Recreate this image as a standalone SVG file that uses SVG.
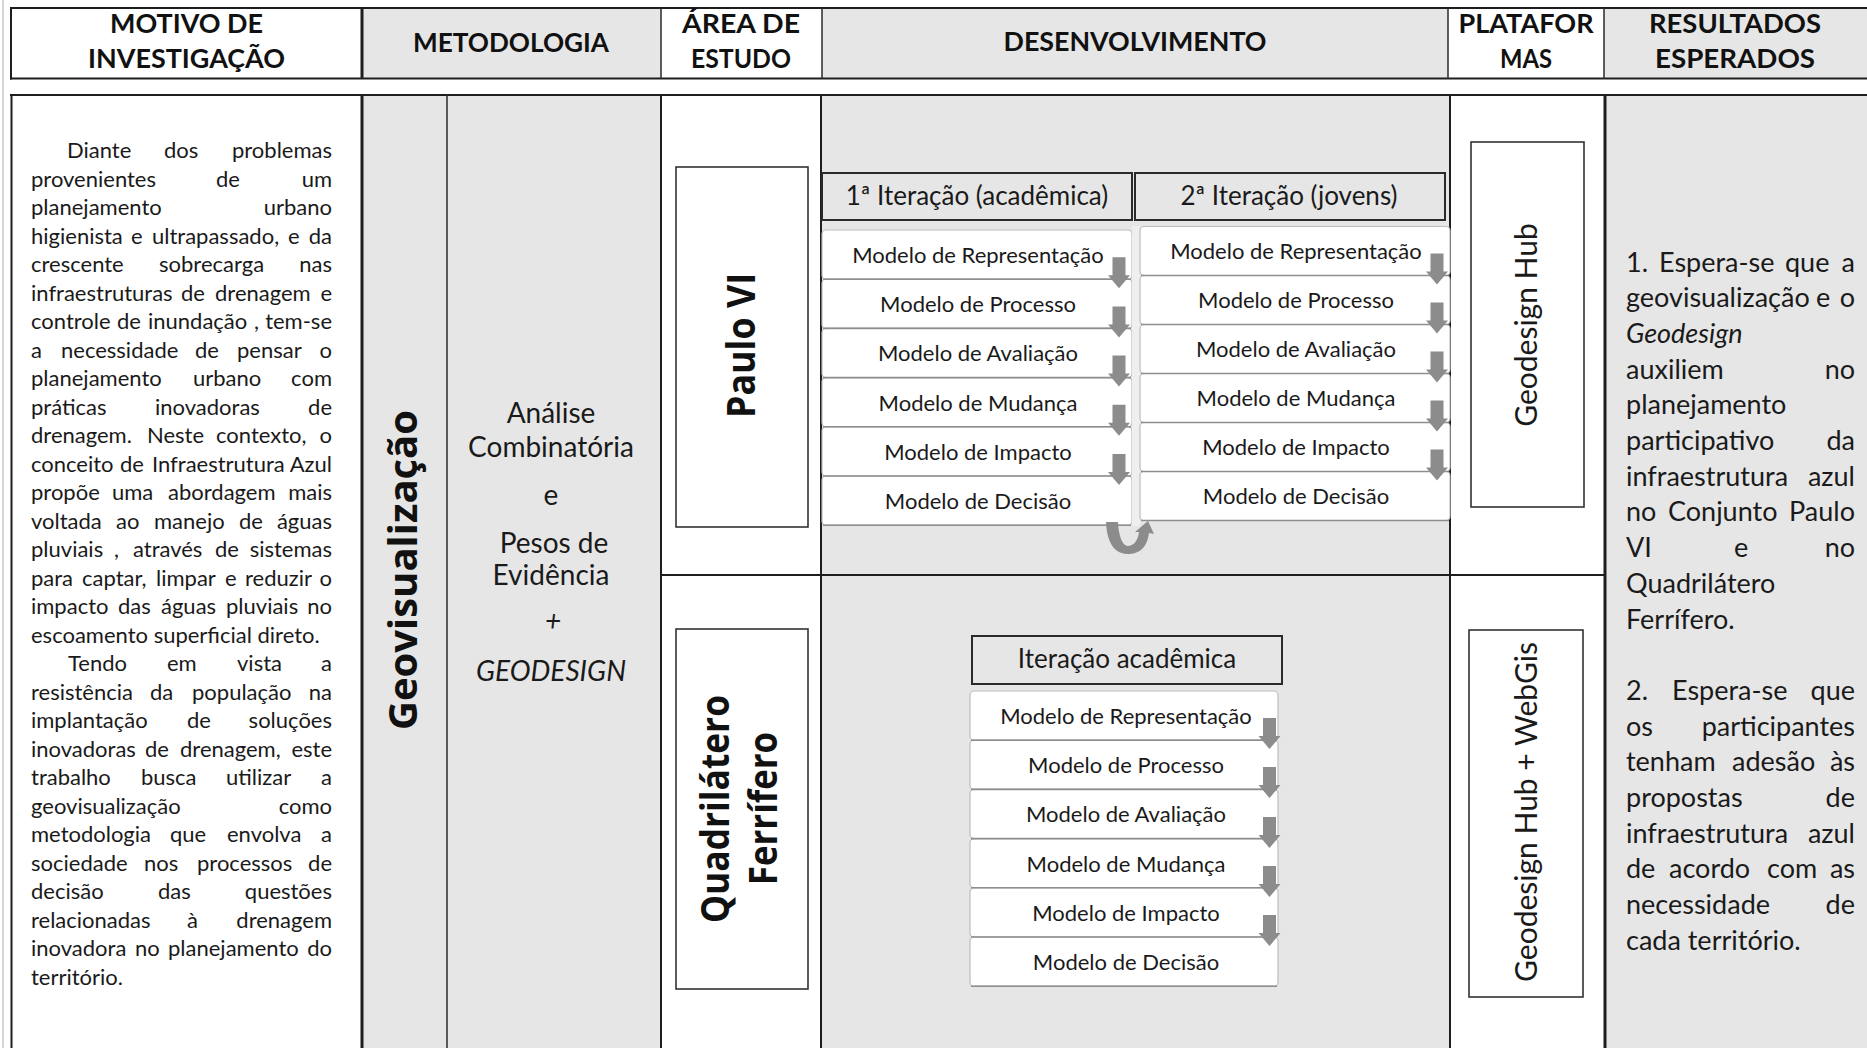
<svg xmlns="http://www.w3.org/2000/svg" xmlns:xlink="http://www.w3.org/1999/xlink" width="1867" height="1048" viewBox="0 0 1867 1048">
  <style>
    .w { fill: #ffffff; }
    .g { fill: #e6e6e6; }
    .rule { stroke: #1e1e1e; stroke-width: 2; fill: none; }
    .rule-b { stroke: #1e1e1e; stroke-width: 3; fill: none; }
    .rule-t { stroke: #2a2a2a; stroke-width: 1.5; fill: none; }
    .hd { font-family: Lato, "Liberation Sans", sans-serif; font-weight: 700; font-size: 27px; fill: #111; text-anchor: middle; }
    .para { font-family: Lato, "Liberation Sans", sans-serif; font-size: 22px; fill: #1a1a1a; }
    .res { font-family: Lato, "Liberation Sans", sans-serif; font-size: 27px; fill: #1a1a1a; }
    .met { font-family: Lato, "Liberation Sans", sans-serif; font-size: 28px; fill: #1a1a1a; text-anchor: middle; }
    .vbold { font-family: "Open Sans", "DejaVu Sans", sans-serif; font-weight: 700; font-size: 40px; fill: #111; text-anchor: middle; }
    .vplat { font-family: Lato, "Liberation Sans", sans-serif; font-size: 30px; fill: #1a1a1a; text-anchor: middle; }
    .e { text-anchor: end; }
    .it { font-style: italic; }
    .frame { fill: #ffffff; stroke: #333; stroke-width: 1.6; }
    .ihead { fill: #e6e6e6; stroke: #2a2a2a; stroke-width: 2; }
    .ihead-t { font-family: Lato, "Liberation Sans", sans-serif; font-size: 26px; fill: #1a1a1a; text-anchor: middle; }
    .mbox { fill: #ffffff; stroke: #bdbdbd; stroke-width: 1.2; }
    .mshadow { stroke: #8e8e8e; stroke-width: 1.6; }
    .mtxt { font-family: Lato, "Liberation Sans", sans-serif; font-size: 22px; fill: #1a1a1a; text-anchor: middle; }
    .arrow { fill: #8c8c8c; }
  </style>
  <defs>
    <!-- gray block arrow pointing down, origin at top centre of the shaft -->
    <path id="dn" class="arrow" d="M-6.5,0 H6.5 V18 H11 L0,31 L-11,18 H-6.5 Z"/>
  </defs>

  <rect x="0" y="0" width="1867" height="1048" fill="#ffffff"/>
  <line x1="3" y1="0" x2="3" y2="1048" stroke="#c8c8c8" stroke-width="1.5"/>

  <!-- table: header row -->
  <g id="table-header">
    <rect class="w" x="11" y="8" width="351" height="71"/>
    <rect class="g" x="362" y="8" width="299" height="71"/>
    <rect class="w" x="661" y="8" width="161" height="71"/>
    <rect class="g" x="822" y="8" width="626" height="71"/>
    <rect class="w" x="1448" y="8" width="156" height="71"/>
    <rect class="g" x="1604" y="8" width="263" height="71"/>
    <line class="rule" x1="10" y1="8" x2="1867" y2="8"/>
    <line class="rule" x1="10" y1="78.5" x2="1867" y2="78.5"/>
    <line class="rule" x1="11" y1="7" x2="11" y2="79.5"/>
    <line class="rule-b" x1="362" y1="8" x2="362" y2="79"/>
    <line class="rule-t" x1="661" y1="8" x2="661" y2="79"/>
    <line class="rule-t" x1="822" y1="8" x2="822" y2="79"/>
    <line class="rule-t" x1="1448" y1="8" x2="1448" y2="79"/>
    <line class="rule-t" x1="1604" y1="8" x2="1604" y2="79"/>
    <text class="hd" x="186.5" y="33" textLength="153" lengthAdjust="spacingAndGlyphs">MOTIVO DE</text>
    <text class="hd" x="186.5" y="68" textLength="197" lengthAdjust="spacingAndGlyphs">INVESTIGAÇÃO</text>
    <text class="hd" x="511" y="52" textLength="196" lengthAdjust="spacingAndGlyphs">METODOLOGIA</text>
    <text class="hd" x="741" y="33" textLength="118" lengthAdjust="spacingAndGlyphs">ÁREA DE</text>
    <text class="hd" x="741" y="68" textLength="100" lengthAdjust="spacingAndGlyphs">ESTUDO</text>
    <text class="hd" x="1135" y="51" textLength="263" lengthAdjust="spacingAndGlyphs">DESENVOLVIMENTO</text>
    <text class="hd" x="1526" y="33" textLength="135" lengthAdjust="spacingAndGlyphs">PLATAFOR</text>
    <text class="hd" x="1526" y="68" textLength="52" lengthAdjust="spacingAndGlyphs">MAS</text>
    <text class="hd" x="1735" y="33" textLength="172" lengthAdjust="spacingAndGlyphs">RESULTADOS</text>
    <text class="hd" x="1735" y="68" textLength="160" lengthAdjust="spacingAndGlyphs">ESPERADOS</text>
  </g>

  <!-- table: body cells -->
  <g id="table-body">
    <rect class="w" x="11" y="95" width="351" height="953"/>
    <rect class="g" x="362" y="95" width="85" height="953"/>
    <rect class="g" x="447" y="95" width="214" height="953"/>
    <rect class="w" x="661" y="95" width="160" height="953"/>
    <rect class="g" x="821" y="95" width="629" height="953"/>
    <rect class="w" x="1450" y="95" width="155" height="953"/>
    <rect class="g" x="1605" y="95" width="262" height="953"/>
    <line class="rule" x1="10" y1="95" x2="1867" y2="95"/>
    <line class="rule" x1="11.5" y1="94" x2="11.5" y2="1048"/>
    <line class="rule-b" x1="362" y1="94" x2="362" y2="1048"/>
    <line class="rule-t" x1="447" y1="94" x2="447" y2="1048"/>
    <line class="rule" x1="661" y1="94" x2="661" y2="1048"/>
    <line class="rule" x1="821" y1="94" x2="821" y2="1048"/>
    <line class="rule" x1="1450" y1="94" x2="1450" y2="1048"/>
    <line class="rule-b" x1="1605" y1="94" x2="1605" y2="1048"/>
    <line class="rule" x1="661" y1="575" x2="1605" y2="575"/>
  </g>

  <!-- research motive (justified paragraph, one text per line) -->
  <g id="motivo">
    <text class="para" y="158.3"><tspan x="67">Diante</tspan><tspan x="164">dos</tspan><tspan x="332" class="e">problemas</tspan></text>
    <text class="para" y="186.8"><tspan x="31">provenientes</tspan><tspan x="216">de</tspan><tspan x="332" class="e">um</tspan></text>
    <text class="para" y="215.3"><tspan x="31">planejamento</tspan><tspan x="332" class="e">urbano</tspan></text>
    <text class="para" y="243.8"><tspan x="31">higienista</tspan><tspan x="131">e</tspan><tspan x="152">ultrapassado,</tspan><tspan x="288">e</tspan><tspan x="332" class="e">da</tspan></text>
    <text class="para" y="272.3"><tspan x="31">crescente</tspan><tspan x="159">sobrecarga</tspan><tspan x="332" class="e">nas</tspan></text>
    <text class="para" y="300.8"><tspan x="31">infraestruturas</tspan><tspan x="181">de</tspan><tspan x="215">drenagem</tspan><tspan x="332" class="e">e</tspan></text>
    <text class="para" y="329.3"><tspan x="31">controle</tspan><tspan x="117">de</tspan><tspan x="148">inundação</tspan><tspan x="254">,</tspan><tspan x="332" class="e">tem-se</tspan></text>
    <text class="para" y="357.8"><tspan x="31">a</tspan><tspan x="61">necessidade</tspan><tspan x="195">de</tspan><tspan x="237">pensar</tspan><tspan x="332" class="e">o</tspan></text>
    <text class="para" y="386.3"><tspan x="31">planejamento</tspan><tspan x="193">urbano</tspan><tspan x="332" class="e">com</tspan></text>
    <text class="para" y="414.8"><tspan x="31">práticas</tspan><tspan x="155">inovadoras</tspan><tspan x="332" class="e">de</tspan></text>
    <text class="para" y="443.3"><tspan x="31">drenagem.</tspan><tspan x="147">Neste</tspan><tspan x="216">contexto,</tspan><tspan x="332" class="e">o</tspan></text>
    <text class="para" y="471.8"><tspan x="31">conceito</tspan><tspan x="120">de</tspan><tspan x="152">Infraestrutura</tspan><tspan x="332" class="e">Azul</tspan></text>
    <text class="para" y="500.3"><tspan x="31">propõe</tspan><tspan x="112">uma</tspan><tspan x="168">abordagem</tspan><tspan x="332" class="e">mais</tspan></text>
    <text class="para" y="528.8"><tspan x="31">voltada</tspan><tspan x="116">ao</tspan><tspan x="154">manejo</tspan><tspan x="239">de</tspan><tspan x="332" class="e">águas</tspan></text>
    <text class="para" y="557.3"><tspan x="31">pluviais</tspan><tspan x="114">,</tspan><tspan x="133">através</tspan><tspan x="215">de</tspan><tspan x="332" class="e">sistemas</tspan></text>
    <text class="para" y="585.8"><tspan x="31">para</tspan><tspan x="82">captar,</tspan><tspan x="156">limpar</tspan><tspan x="225">e</tspan><tspan x="245">reduzir</tspan><tspan x="332" class="e">o</tspan></text>
    <text class="para" y="614.3"><tspan x="31">impacto</tspan><tspan x="118">das</tspan><tspan x="161">águas</tspan><tspan x="226">pluviais</tspan><tspan x="332" class="e">no</tspan></text>
    <text class="para" x="31" y="642.8">escoamento superficial direto.</text>
    <text class="para" y="671.3"><tspan x="68">Tendo</tspan><tspan x="167">em</tspan><tspan x="237">vista</tspan><tspan x="332" class="e">a</tspan></text>
    <text class="para" y="699.8"><tspan x="31">resistência</tspan><tspan x="150">da</tspan><tspan x="192">população</tspan><tspan x="332" class="e">na</tspan></text>
    <text class="para" y="728.3"><tspan x="31">implantação</tspan><tspan x="187">de</tspan><tspan x="332" class="e">soluções</tspan></text>
    <text class="para" y="756.8"><tspan x="31">inovadoras</tspan><tspan x="145">de</tspan><tspan x="180">drenagem,</tspan><tspan x="332" class="e">este</tspan></text>
    <text class="para" y="785.3"><tspan x="31">trabalho</tspan><tspan x="141">busca</tspan><tspan x="226">utilizar</tspan><tspan x="332" class="e">a</tspan></text>
    <text class="para" y="813.8"><tspan x="31">geovisualização</tspan><tspan x="332" class="e">como</tspan></text>
    <text class="para" y="842.3"><tspan x="31">metodologia</tspan><tspan x="170">que</tspan><tspan x="227">envolva</tspan><tspan x="332" class="e">a</tspan></text>
    <text class="para" y="870.8"><tspan x="31">sociedade</tspan><tspan x="144">nos</tspan><tspan x="197">processos</tspan><tspan x="332" class="e">de</tspan></text>
    <text class="para" y="899.3"><tspan x="31">decisão</tspan><tspan x="158">das</tspan><tspan x="332" class="e">questões</tspan></text>
    <text class="para" y="927.8"><tspan x="31">relacionadas</tspan><tspan x="187">à</tspan><tspan x="332" class="e">drenagem</tspan></text>
    <text class="para" y="956.3"><tspan x="31">inovadora</tspan><tspan x="135">no</tspan><tspan x="168">planejamento</tspan><tspan x="332" class="e">do</tspan></text>
    <text class="para" x="31" y="984.8">território.</text>
  </g>

  <!-- methodology -->
  <g id="geovisualizacao">
    <text class="vbold" x="417" y="570" transform="rotate(-90 417 570)" textLength="320" lengthAdjust="spacingAndGlyphs">Geovisualização</text>
  </g>
  <g id="metodologia">
    <text class="met" x="551" y="423">Análise</text>
    <text class="met" x="551" y="457">Combinatória</text>
    <text class="met" x="551" y="505">e</text>
    <text class="met" x="554" y="553">Pesos de</text>
    <text class="met" x="551" y="585">Evidência</text>
    <text class="met it" x="553" y="631">+</text>
    <text class="met it" x="551" y="681">GEODESIGN</text>
  </g>

  <!-- study areas -->
  <g id="paulo-vi">
    <rect class="frame" x="676" y="167" width="132" height="360"/>
    <text class="vbold" x="755" y="345.5" transform="rotate(-90 755 345.5)" textLength="145" lengthAdjust="spacingAndGlyphs">Paulo VI</text>
  </g>
  <g id="quadrilatero">
    <rect class="frame" x="676" y="629" width="132" height="360"/>
    <text class="vbold" x="729" y="809" transform="rotate(-90 729 809)" textLength="228" lengthAdjust="spacingAndGlyphs">Quadrilátero</text>
    <text class="vbold" x="777" y="808.5" transform="rotate(-90 777 808.5)" textLength="153" lengthAdjust="spacingAndGlyphs">Ferrífero</text>
  </g>

  <!-- development: first iteration -->
  <g id="iteracao-1">
    <rect class="ihead" x="822" y="173" width="310" height="47"/>
    <text class="ihead-t" x="977" y="205">1ª Iteração (acadêmica)</text>
    <rect class="mbox" x="822" y="230" width="310" height="49.2" rx="4"/>
    <rect class="mbox" x="822" y="279.2" width="310" height="49.2" rx="4"/>
    <rect class="mbox" x="822" y="328.4" width="310" height="49.2" rx="4"/>
    <rect class="mbox" x="822" y="377.6" width="310" height="49.2" rx="4"/>
    <rect class="mbox" x="822" y="426.8" width="310" height="49.2" rx="4"/>
    <rect class="mbox" x="822" y="476" width="310" height="49.2" rx="4"/>
    <line class="mshadow" x1="823" y1="279.2" x2="1131" y2="279.2"/>
    <line class="mshadow" x1="823" y1="328.4" x2="1131" y2="328.4"/>
    <line class="mshadow" x1="823" y1="377.6" x2="1131" y2="377.6"/>
    <line class="mshadow" x1="823" y1="426.8" x2="1131" y2="426.8"/>
    <line class="mshadow" x1="823" y1="476" x2="1131" y2="476"/>
    <line class="mshadow" x1="823" y1="525.2" x2="1131" y2="525.2"/>
    <text class="mtxt" x="978" y="263">Modelo de Representação</text>
    <text class="mtxt" x="978" y="312.2">Modelo de Processo</text>
    <text class="mtxt" x="978" y="361.4">Modelo de Avaliação</text>
    <text class="mtxt" x="978" y="410.6">Modelo de Mudança</text>
    <text class="mtxt" x="978" y="459.8">Modelo de Impacto</text>
    <text class="mtxt" x="978" y="509">Modelo de Decisão</text>
  </g>
  <rect x="1132" y="226" width="8" height="300" fill="#efefef"/>

  <!-- development: second iteration -->
  <g id="iteracao-2">
    <rect class="ihead" x="1135" y="173" width="310" height="47"/>
    <text class="ihead-t" x="1289" y="205">2ª Iteração (jovens)</text>
    <rect class="mbox" x="1140" y="226.5" width="310" height="49" rx="4"/>
    <rect class="mbox" x="1140" y="275.5" width="310" height="49" rx="4"/>
    <rect class="mbox" x="1140" y="324.5" width="310" height="49" rx="4"/>
    <rect class="mbox" x="1140" y="373.5" width="310" height="49" rx="4"/>
    <rect class="mbox" x="1140" y="422.5" width="310" height="49" rx="4"/>
    <rect class="mbox" x="1140" y="471.5" width="310" height="49" rx="4"/>
    <line class="mshadow" x1="1141" y1="275.5" x2="1449" y2="275.5"/>
    <line class="mshadow" x1="1141" y1="324.5" x2="1449" y2="324.5"/>
    <line class="mshadow" x1="1141" y1="373.5" x2="1449" y2="373.5"/>
    <line class="mshadow" x1="1141" y1="422.5" x2="1449" y2="422.5"/>
    <line class="mshadow" x1="1141" y1="471.5" x2="1449" y2="471.5"/>
    <line class="mshadow" x1="1141" y1="520.5" x2="1449" y2="520.5"/>
    <text class="mtxt" x="1296" y="259">Modelo de Representação</text>
    <text class="mtxt" x="1296" y="308">Modelo de Processo</text>
    <text class="mtxt" x="1296" y="357">Modelo de Avaliação</text>
    <text class="mtxt" x="1296" y="406">Modelo de Mudança</text>
    <text class="mtxt" x="1296" y="455">Modelo de Impacto</text>
    <text class="mtxt" x="1296" y="504">Modelo de Decisão</text>
  </g>

  <!-- development: academic iteration (second area) -->
  <g id="iteracao-academica">
    <rect class="ihead" x="972" y="636" width="310" height="48"/>
    <text class="ihead-t" x="1127" y="668">Iteração acadêmica</text>
    <rect class="mbox" x="970" y="691" width="308" height="49.2" rx="4"/>
    <rect class="mbox" x="970" y="740.2" width="308" height="49.2" rx="4"/>
    <rect class="mbox" x="970" y="789.4" width="308" height="49.2" rx="4"/>
    <rect class="mbox" x="970" y="838.6" width="308" height="49.2" rx="4"/>
    <rect class="mbox" x="970" y="887.8" width="308" height="49.2" rx="4"/>
    <rect class="mbox" x="970" y="937" width="308" height="49.2" rx="4"/>
    <line class="mshadow" x1="971" y1="740.2" x2="1277" y2="740.2"/>
    <line class="mshadow" x1="971" y1="789.4" x2="1277" y2="789.4"/>
    <line class="mshadow" x1="971" y1="838.6" x2="1277" y2="838.6"/>
    <line class="mshadow" x1="971" y1="887.8" x2="1277" y2="887.8"/>
    <line class="mshadow" x1="971" y1="937" x2="1277" y2="937"/>
    <line class="mshadow" x1="971" y1="986.2" x2="1277" y2="986.2"/>
    <text class="mtxt" x="1126" y="724">Modelo de Representação</text>
    <text class="mtxt" x="1126" y="773.2">Modelo de Processo</text>
    <text class="mtxt" x="1126" y="822.4">Modelo de Avaliação</text>
    <text class="mtxt" x="1126" y="871.6">Modelo de Mudança</text>
    <text class="mtxt" x="1126" y="920.8">Modelo de Impacto</text>
    <text class="mtxt" x="1126" y="970">Modelo de Decisão</text>
  </g>

  <!-- platforms -->
  <g id="geodesign-hub">
    <rect class="frame" x="1471" y="142" width="113" height="365"/>
    <text class="vplat" x="1537" y="325" transform="rotate(-90 1537 325)">Geodesign Hub</text>
  </g>
  <g id="geodesign-hub-webgis">
    <rect class="frame" x="1469" y="630" width="114" height="367"/>
    <text class="vplat" x="1537" y="812" transform="rotate(-90 1537 812)">Geodesign Hub + WebGis</text>
  </g>

  <!-- expected results (justified paragraph) -->
  <g id="resultados">
    <text class="res" y="271.5"><tspan x="1626">1.</tspan><tspan x="1659">Espera-se</tspan><tspan x="1785">que</tspan><tspan x="1855" class="e">a</tspan></text>
    <text class="res" y="307.2"><tspan x="1626">geovisualização</tspan><tspan x="1816">e</tspan><tspan x="1855" class="e">o</tspan></text>
    <text class="res it" x="1626" y="342.9">Geodesign</text>
    <text class="res" y="378.6"><tspan x="1626">auxiliem</tspan><tspan x="1855" class="e">no</tspan></text>
    <text class="res" x="1626" y="414.3">planejamento</text>
    <text class="res" y="450"><tspan x="1626">participativo</tspan><tspan x="1855" class="e">da</tspan></text>
    <text class="res" y="485.7"><tspan x="1626">infraestrutura</tspan><tspan x="1855" class="e">azul</tspan></text>
    <text class="res" y="521.4"><tspan x="1626">no</tspan><tspan x="1668">Conjunto</tspan><tspan x="1855" class="e">Paulo</tspan></text>
    <text class="res" y="557.1"><tspan x="1626">VI</tspan><tspan x="1734">e</tspan><tspan x="1855" class="e">no</tspan></text>
    <text class="res" x="1626" y="592.8">Quadrilátero</text>
    <text class="res" x="1626" y="628.5">Ferrífero.</text>
    <text class="res" y="699.9"><tspan x="1626">2.</tspan><tspan x="1672">Espera-se</tspan><tspan x="1855" class="e">que</tspan></text>
    <text class="res" y="735.6"><tspan x="1626">os</tspan><tspan x="1855" class="e">participantes</tspan></text>
    <text class="res" y="771.3"><tspan x="1626">tenham</tspan><tspan x="1732">adesão</tspan><tspan x="1855" class="e">às</tspan></text>
    <text class="res" y="807"><tspan x="1626">propostas</tspan><tspan x="1855" class="e">de</tspan></text>
    <text class="res" y="842.7"><tspan x="1626">infraestrutura</tspan><tspan x="1855" class="e">azul</tspan></text>
    <text class="res" y="878.4"><tspan x="1626">de</tspan><tspan x="1669">acordo</tspan><tspan x="1767">com</tspan><tspan x="1855" class="e">as</tspan></text>
    <text class="res" y="914.1"><tspan x="1626">necessidade</tspan><tspan x="1855" class="e">de</tspan></text>
    <text class="res" x="1626" y="949.8">cada território.</text>
  </g>

  <!-- connectors: step arrows between models and the loop into the second iteration -->
  <g id="connectors">
    <use xlink:href="#dn" x="1119" y="257.2"/>
    <use xlink:href="#dn" x="1119" y="306.4"/>
    <use xlink:href="#dn" x="1119" y="355.6"/>
    <use xlink:href="#dn" x="1119" y="404.8"/>
    <use xlink:href="#dn" x="1119" y="454"/>
    <use xlink:href="#dn" x="1437" y="253.5"/>
    <use xlink:href="#dn" x="1437" y="302.5"/>
    <use xlink:href="#dn" x="1437" y="351.5"/>
    <use xlink:href="#dn" x="1437" y="400.5"/>
    <use xlink:href="#dn" x="1437" y="449.5"/>
    <use xlink:href="#dn" x="1269.5" y="718"/>
    <use xlink:href="#dn" x="1269.5" y="767"/>
    <use xlink:href="#dn" x="1269.5" y="817"/>
    <use xlink:href="#dn" x="1269.5" y="866"/>
    <use xlink:href="#dn" x="1269.5" y="915"/>
    <path class="arrow" d="M1106,522 L1118,522 C1119,540 1124,546 1128,546 C1133,546 1138,541 1139,532 L1135,532 L1148,521 L1154,534 L1149,533 C1147,549 1138,554 1128,554 C1116,554 1107,545 1106,522 Z"/>
  </g>
</svg>
